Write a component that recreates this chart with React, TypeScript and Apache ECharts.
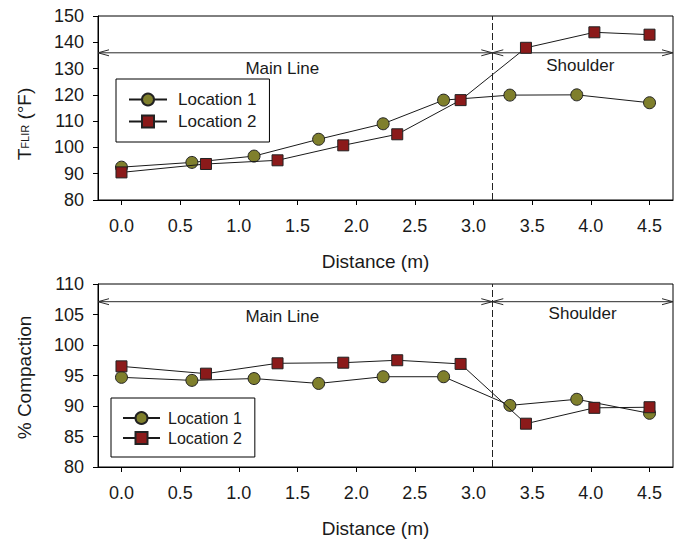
import React, { useEffect, useRef } from "react";
import * as echarts from "echarts";

// ---- data ----
const distLoc1 = [0.0, 0.6, 1.13, 1.68, 2.23, 2.745, 3.31, 3.88, 4.5];
const distLoc2 = [0.0, 0.72, 1.33, 1.89, 2.35, 2.89, 3.447, 4.03, 4.5];
const tempLoc1 = [92.5, 94.3, 96.7, 103.1, 109.0, 118.0, 119.9, 120.0, 117.0];
const tempLoc2 = [90.5, 93.7, 95.1, 100.8, 105.0, 118.0, 137.9, 143.8, 142.9];
const compLoc1 = [94.7, 94.2, 94.5, 93.7, 94.8, 94.8, 90.1, 91.1, 88.8];
const compLoc2 = [96.5, 95.3, 97.0, 97.1, 97.5, 96.9, 87.1, 89.7, 89.8];
const xTicks = [0.0, 0.5, 1.0, 1.5, 2.0, 2.5, 3.0, 3.5, 4.0, 4.5];
const seriesNames = ["Location 1", "Location 2"];
const regionNames = ["Main Line", "Shoulder"];
const boundary = 3.16;
const xMin = -0.2;
const xMax = 4.7;
// arrow segments: [xStart, xEnd, y]
const arrowsTop = [
  [xMin, boundary, 136],
  [boundary, xMax, 136],
];
const arrowsBottom = [
  [xMin, boundary, 107.1],
  [boundary, xMax, 107.1],
];
const regionLabelsTop = [
  [1.37, 130.1],
  [3.91, 131.0],
];
const regionLabelsBottom = [
  [1.37, 104.7],
  [3.93, 105.1],
];

const FONT = "'Liberation Sans', Arial, Helvetica, sans-serif";
const INK = "#1a1a1a";
const OLIVE = "#7f7f2c";
const RED = "#8b1a1a";

function arrowRender(params: any, api: any) {
  const y = api.value(2);
  const a = api.coord([api.value(0), y]);
  const b = api.coord([api.value(1), y]);
  const L = 11;
  const H = 3;
  const st = { stroke: "#2a2a2a", lineWidth: 1, fill: "none" };
  return {
    type: "group",
    children: [
      { type: "line", shape: { x1: a[0], y1: a[1], x2: b[0], y2: b[1] }, style: st },
      {
        type: "polyline",
        shape: { points: [[a[0] + L, a[1] - H], [a[0], a[1]], [a[0] + L, a[1] + H]] },
        style: st,
      },
      {
        type: "polyline",
        shape: { points: [[b[0] - L, b[1] - H], [b[0], b[1]], [b[0] - L, b[1] + H]] },
        style: st,
      },
    ],
  };
}

function labelRender(params: any, api: any) {
  const p = api.coord([api.value(0), api.value(1)]);
  return {
    type: "text",
    x: p[0],
    y: p[1],
    style: {
      text: regionNames[params.dataIndex],
      fontSize: 17,
      fontFamily: FONT,
      fill: INK,
      align: "center",
      verticalAlign: "middle",
    },
  };
}

function xAxisCfg(gridIndex: number) {
  return {
    type: "value",
    gridIndex,
    min: xMin,
    max: xMax,
    name: "Distance (m)",
    nameLocation: "middle",
    nameGap: 52,
    nameTextStyle: { fontSize: 19, fontFamily: FONT, color: INK, padding: [0, 20, 0, 0] },
    axisLine: { show: true, onZero: false, lineStyle: { color: "#000", width: 1 } },
    axisTick: { show: true, inside: false, length: 5, customValues: xTicks, lineStyle: { color: "#000" } },
    axisLabel: {
      customValues: xTicks,
      formatter: (v: number) => v.toFixed(1),
      fontSize: 18,
      fontFamily: FONT,
      color: INK,
      margin: 17,
    },
    splitLine: { show: false },
  };
}

function yAxisCfg(gridIndex: number, min: number, max: number, interval: number, name: string, nameTextStyle: any) {
  return {
    type: "value",
    gridIndex,
    min,
    max,
    interval,
    name,
    nameLocation: "middle",
    nameRotate: 90,
    nameGap: 64,
    nameTextStyle,
    axisLine: { show: true, onZero: false, lineStyle: { color: "#000", width: 1 } },
    axisTick: { show: true, inside: false, length: 5, lineStyle: { color: "#000" } },
    axisLabel: { fontSize: 18, fontFamily: FONT, color: INK, margin: 14 },
    splitLine: { show: false },
  };
}

function lineSeries(name: string, xs: number[], ys: number[], idx: number, isCircle: boolean) {
  return {
    type: "line",
    name,
    xAxisIndex: idx,
    yAxisIndex: idx,
    data: xs.map((x, i) => [x, ys[i]]),
    symbol: isCircle ? "circle" : "rect",
    symbolSize: isCircle ? 12 : 11,
    lineStyle: { color: INK, width: 1 },
    itemStyle: { color: isCircle ? OLIVE : RED, borderColor: "#222", borderWidth: 1 },
    z: isCircle ? 3 : 4,
    clip: false,
  };
}

function boundaryLine() {
  return {
    silent: true,
    symbol: "none",
    label: { show: false },
    lineStyle: { color: "#222", width: 1, type: [7, 3] },
    data: [{ xAxis: boundary }],
  };
}

export default function App() {
  const ref = useRef<HTMLDivElement>(null);
  useEffect(() => {
    if (!ref.current) return;
    const chart = echarts.init(ref.current, null, { renderer: "svg" });
    const option: any = {
      animation: false,
      backgroundColor: "#fff",
      grid: [
        { left: 98, right: 8, top: 16, height: 184, show: true, borderColor: "#000", borderWidth: 1, backgroundColor: "transparent" },
        { left: 98, right: 8, top: 284, height: 183, show: true, borderColor: "#000", borderWidth: 1, backgroundColor: "transparent" },
      ],
      legend: [
        {
          data: seriesNames,
          orient: "vertical",
          left: 116,
          top: 79,
          padding: [12, 13, 12, 12],
          itemGap: 5,
          itemWidth: 38,
          itemHeight: 15,
          borderColor: "#000",
          borderWidth: 1,
          backgroundColor: "#fff",
          textStyle: { fontSize: 17, fontFamily: FONT, color: INK, padding: [0, 0, 0, 6] },
          selectedMode: false,
        },
        {
          data: seriesNames,
          orient: "vertical",
          left: 111,
          top: 398,
          padding: [12, 13, 11, 11],
          itemGap: 4,
          itemWidth: 37,
          itemHeight: 15,
          borderColor: "#000",
          borderWidth: 1,
          backgroundColor: "#fff",
          textStyle: { fontSize: 16, fontFamily: FONT, color: INK, padding: [0, 0, 0, 3] },
          selectedMode: false,
        },
      ],
      xAxis: [xAxisCfg(0), xAxisCfg(1)],
      yAxis: [
        yAxisCfg(0, 80, 150, 10, "{t|T}{s|FLIR}{t| (°F)}", {
          padding: [0, 32, 0, 0],
          rich: {
            t: { fontSize: 19, fontFamily: FONT, color: INK },
            s: { fontSize: 11, fontFamily: FONT, color: INK },
          },
        }),
        yAxisCfg(1, 80, 110, 5, "% Compaction", {
          fontSize: 19,
          fontFamily: FONT,
          color: INK,
          padding: [0, 4, 0, 0],
        }),
      ],
      series: [
        {
          type: "custom",
          name: "arrowsTop",
          xAxisIndex: 0,
          yAxisIndex: 0,
          data: arrowsTop,
          renderItem: arrowRender,
          clip: false,
          silent: true,
          z: 1,
          markLine: boundaryLine(),
        },
        {
          type: "custom",
          name: "labelsTop",
          xAxisIndex: 0,
          yAxisIndex: 0,
          data: regionLabelsTop,
          renderItem: labelRender,
          clip: false,
          silent: true,
          z: 1,
        },
        {
          type: "custom",
          name: "arrowsBottom",
          xAxisIndex: 1,
          yAxisIndex: 1,
          data: arrowsBottom,
          renderItem: arrowRender,
          clip: false,
          silent: true,
          z: 1,
          markLine: boundaryLine(),
        },
        {
          type: "custom",
          name: "labelsBottom",
          xAxisIndex: 1,
          yAxisIndex: 1,
          data: regionLabelsBottom,
          renderItem: labelRender,
          clip: false,
          silent: true,
          z: 1,
        },
        lineSeries(seriesNames[0], distLoc1, tempLoc1, 0, true),
        lineSeries(seriesNames[1], distLoc2, tempLoc2, 0, false),
        lineSeries(seriesNames[0], distLoc1, compLoc1, 1, true),
        lineSeries(seriesNames[1], distLoc2, compLoc2, 1, false),
      ],
    };
    chart.setOption(option);
    return () => chart.dispose();
  }, []);
  return (
    <div
      ref={ref}
      style={{ position: "absolute", left: 0, top: 0, width: 681, height: 539, background: "#fff" }}
    />
  );
}
